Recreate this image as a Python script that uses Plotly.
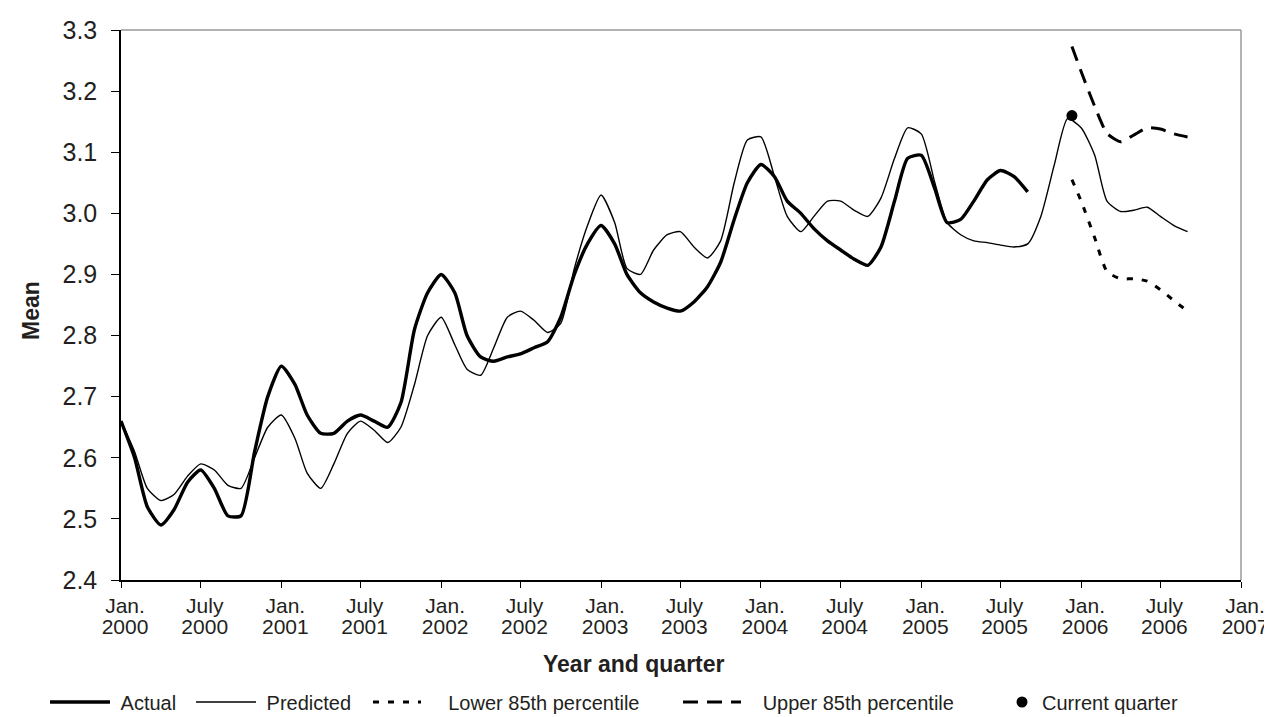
import plotly.graph_objects as go
import pandas as pd

# ---------------- data ----------------
actual_values = [
    2.66, 2.60, 2.52, 2.49, 2.515, 2.56, 2.58, 2.55, 2.505, 2.505, 2.61, 2.70,
    2.75, 2.72, 2.67, 2.64, 2.64, 2.66, 2.67, 2.66, 2.65, 2.69, 2.81, 2.87,
    2.90, 2.87, 2.80, 2.765, 2.758, 2.765, 2.77, 2.78, 2.79, 2.83, 2.90, 2.95,
    2.98, 2.95, 2.90, 2.87, 2.855, 2.845, 2.84, 2.855, 2.88, 2.92, 2.99, 3.05,
    3.08, 3.06, 3.02, 3.00, 2.975, 2.955, 2.94, 2.925, 2.915, 2.945, 3.02, 3.09,
    3.095, 3.04, 2.985, 2.99, 3.02, 3.055, 3.07, 3.06, 3.035,
]
predicted_values = [
    2.66, 2.61, 2.55, 2.53, 2.54, 2.57, 2.59, 2.58, 2.555, 2.55, 2.60, 2.65,
    2.67, 2.632, 2.575, 2.55, 2.59, 2.64, 2.66, 2.645, 2.625, 2.65, 2.72, 2.80,
    2.83, 2.785, 2.745, 2.735, 2.78, 2.83, 2.84, 2.825, 2.805, 2.82, 2.91, 2.98,
    3.03, 2.985, 2.91, 2.90, 2.94, 2.965, 2.97, 2.945, 2.927, 2.955, 3.05, 3.12,
    3.125, 3.06, 2.995, 2.97, 2.995, 3.02, 3.02, 3.005, 2.995, 3.025, 3.09, 3.14,
    3.13, 3.05, 2.985, 2.965, 2.955, 2.952, 2.948, 2.945, 2.95, 2.995, 3.08, 3.155,
    3.14, 3.095, 3.02, 3.003, 3.005, 3.01, 2.995, 2.98, 2.97,
]
forecast_dates = ["2005-12-11", "2006-01-01", "2006-02-01", "2006-03-01", "2006-04-01",
                  "2006-05-01", "2006-06-01", "2006-07-01", "2006-08-01", "2006-09-01"]
upper_values = [3.273, 3.232, 3.175, 3.131, 3.117, 3.128, 3.14, 3.138, 3.13, 3.125]
lower_values = [3.055, 3.02, 2.96, 2.905, 2.893, 2.893, 2.889, 2.875, 2.857, 2.84]
current_quarter_dates = ["2005-12-11"]
current_quarter_values = [3.16]

tick_dates = ["2000-01-01", "2000-07-01", "2001-01-01", "2001-07-01", "2002-01-01",
              "2002-07-01", "2003-01-01", "2003-07-01", "2004-01-01", "2004-07-01",
              "2005-01-01", "2005-07-01", "2006-01-01", "2006-07-01", "2007-01-01"]
tick_month_labels = ["Jan.", "July", "Jan.", "July", "Jan.", "July", "Jan.", "July",
                     "Jan.", "July", "Jan.", "July", "Jan.", "July", "Jan."]
tick_year_labels = ["2000", "2000", "2001", "2001", "2002", "2002", "2003", "2003",
                    "2004", "2004", "2005", "2005", "2006", "2006", "2007"]
y_ticks = [2.4, 2.5, 2.6, 2.7, 2.8, 2.9, 3.0, 3.1, 3.2, 3.3]

actual_dates = pd.date_range("2000-01-01", periods=len(actual_values), freq="MS")
predicted_dates = pd.date_range("2000-01-01", periods=len(predicted_values), freq="MS")

# ---------------- styling ----------------
FONT = "Liberation Sans, Arial, Helvetica, sans-serif"
TXT = "#231f20"
NB = "\u00a0"

fig = go.Figure()
fig.add_trace(go.Scatter(
    x=predicted_dates, y=predicted_values, mode="lines", name=NB + "Predicted",
    line=dict(color="black", width=1.4, shape="spline", smoothing=0.6),
    legend="legend2"))
fig.add_trace(go.Scatter(
    x=actual_dates, y=actual_values, mode="lines", name=NB + "Actual",
    line=dict(color="black", width=3.4, shape="spline", smoothing=0.6),
    legend="legend"))
fig.add_trace(go.Scatter(
    x=forecast_dates, y=lower_values, mode="lines", name=NB * 4 + "Lower 85th percentile",
    line=dict(color="black", width=3, dash="6px,9px", shape="spline", smoothing=0.6),
    legend="legend3"))
fig.add_trace(go.Scatter(
    x=forecast_dates, y=upper_values, mode="lines", name=NB * 3 + "Upper 85th percentile",
    line=dict(color="black", width=3, dash="15px,9px", shape="spline", smoothing=0.6),
    legend="legend4"))
fig.add_trace(go.Scatter(
    x=current_quarter_dates, y=current_quarter_values, mode="markers",
    name="Current quarter", xaxis="x2",
    marker=dict(color="black", size=11),
    legend="legend5"))


def px_x(p):
    return (p - 113) / 1120.0


def px_y(p):
    return (572 - p) / 550.0


leg_common = dict(xanchor="left", yanchor="middle", y=px_y(694), orientation="h",
                  bgcolor="rgba(0,0,0,0)", font=dict(family=FONT, size=20, color=TXT),
                  borderwidth=0)

fig.update_layout(
    width=1272, height=717,
    margin=dict(l=113, r=39, t=22, b=145, autoexpand=False),
    paper_bgcolor="white", plot_bgcolor="white",
    font=dict(family=FONT, color=TXT),
    xaxis=dict(
        type="date", range=["2000-01-01", "2007-01-01"],
        tickmode="array", tickvals=tick_dates, ticktext=tick_month_labels,
        ticks="outside", ticklen=6, tickwidth=1, tickcolor="black",
        showline=True, linecolor="black", linewidth=1.5,
        showgrid=False, zeroline=False,
        tickfont=dict(family=FONT, size=21, color=TXT),
        ticklabelshift=4,
    ),
    xaxis2=dict(
        type="date", overlaying="x", matches="x", anchor="y", side="bottom",
        tickmode="array", tickvals=tick_dates, ticktext=tick_year_labels,
        ticks="outside", ticklen=6, tickcolor="rgba(0,0,0,0)",
        showline=False, showgrid=False, zeroline=False,
        tickfont=dict(family=FONT, size=21, color=TXT),
        ticklabelshift=4, ticklabelstandoff=22,
    ),
    yaxis=dict(
        range=[2.4, 3.3], tickmode="array", tickvals=y_ticks,
        tickformat=".1f",
        ticks="outside", ticklen=8, tickwidth=1, tickcolor="black",
        showline=True, linecolor="black", linewidth=1.5,
        showgrid=False, zeroline=False,
        tickfont=dict(family=FONT, size=25, color=TXT),
        ticklabelstandoff=9,
    ),
    showlegend=True,
    legend=dict(x=px_x(37), itemwidth=60, **leg_common),
    legend2=dict(x=px_x(183), itemwidth=60, **leg_common),
    legend3=dict(x=px_x(360), itemwidth=48, **leg_common),
    legend4=dict(x=px_x(670), itemwidth=58, **leg_common),
    legend5=dict(x=px_x(994), itemwidth=30, **leg_common),
    shapes=[
        dict(type="line", xref="paper", yref="paper", x0=0, x1=1, y0=1, y1=1,
             line=dict(color="#999999", width=1.5)),
        dict(type="line", xref="paper", yref="paper", x0=1, x1=1, y0=0, y1=1,
             line=dict(color="#999999", width=1.5)),
    ],
    annotations=[
        dict(text="<b>Mean</b>", xref="paper", yref="paper", x=px_x(23), y=px_y(303),
             xanchor="center", yanchor="middle", textangle=-90, showarrow=False,
             font=dict(family=FONT, size=23, color=TXT)),
        dict(text="<b>Year and quarter</b>", xref="paper", yref="paper",
             x=px_x(626), y=px_y(656), xanchor="center", yanchor="middle",
             showarrow=False, font=dict(family=FONT, size=23, color=TXT)),
    ],
)

fig.write_html("out.html")
